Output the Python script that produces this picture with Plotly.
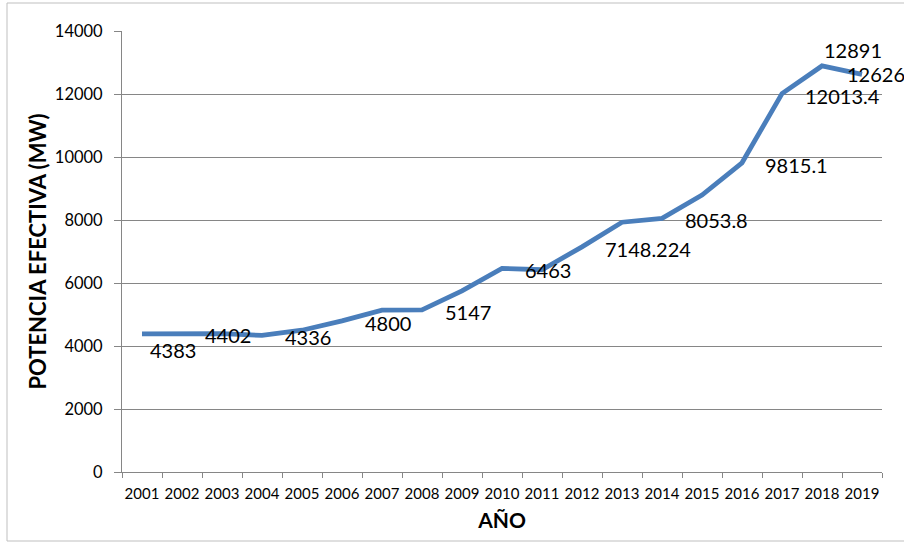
import plotly.graph_objects as go

years = [str(y) for y in range(2001, 2020)]
potencia = [4383, 4402, 4390, 4336, 4500, 4800, 5140, 5147, 5750, 6463,
            6420, 7148.224, 7930, 8053.8, 8790, 9815.1, 12013.4, 12891, 12626]
labels = ["4383", "4402", "", "4336", "", "4800", "", "5147", "", "6463",
          "", "7148.224", "", "8053.8", "", "9815.1", "12013.4", "12891", "12626"]
y_ticks = [0, 2000, 4000, 6000, 8000, 10000, 12000, 14000]

FONT = "Lato"
fig = go.Figure()
fig.add_trace(go.Scatter(x=years, y=potencia, mode="lines",
                         line=dict(color="#4A7EBB", width=4.8, shape="linear"),
                         showlegend=False, hoverinfo="skip"))

# label placement (style only)
shifts = {
    0: (6, -16, "left"),
    17: (0, 16, "left"),
    18: (-17, 0, "left"),
}
for i, (y, t) in enumerate(zip(potencia, labels)):
    if not t:
        continue
    dx, dy, anc = shifts.get(i, (21, -2, "left"))
    fig.add_annotation(x=i, y=y, xref="x", yref="y", text=t, showarrow=False,
                       xanchor=anc, yanchor="middle", xshift=dx, yshift=dy,
                       font=dict(family=FONT, size=20, color="#000000"))

fig.update_layout(
    width=904, height=544,
    margin=dict(l=122, r=22, t=31, b=72),
    paper_bgcolor="white", plot_bgcolor="white",
    font=dict(family=FONT, color="#000000"),
    xaxis=dict(type="category", range=[-0.5, len(years) - 0.5],
               tickson="boundaries", ticks="outside", tickangle=0,
               ticklen=5, tickcolor="#868686", showline=True,
               linecolor="#868686", linewidth=1, showgrid=False,
               ticklabelstandoff=8,
               tickfont=dict(family=FONT, size=15, color="#000000"),
               title=dict(text="<b>AÑO</b>", font=dict(family=FONT, size=21),
                          standoff=12)),
    yaxis=dict(range=[0, 14000], tickvals=y_ticks, tickformat="d",
               ticks="outside", ticklabelstandoff=8,
               ticklen=7, tickcolor="#868686", showline=True,
               linecolor="#868686", linewidth=1, showgrid=True,
               gridcolor="#868686", gridwidth=1, zeroline=False,
               tickfont=dict(family=FONT, size=16.5, color="#000000"),
               title=dict(text="<b>POTENCIA EFECTIVA (MW)</b>",
                          font=dict(family=FONT, size=22), standoff=2)),
)

# outer chart border
fig.add_shape(type="rect", xref="paper", yref="paper",
              x0=-115/760, x1=1 + 40/760, y0=-69/441, y1=1 + 28/441,
              line=dict(color="#BFBFBF", width=1), layer="below")

fig.write_html("out.html")
